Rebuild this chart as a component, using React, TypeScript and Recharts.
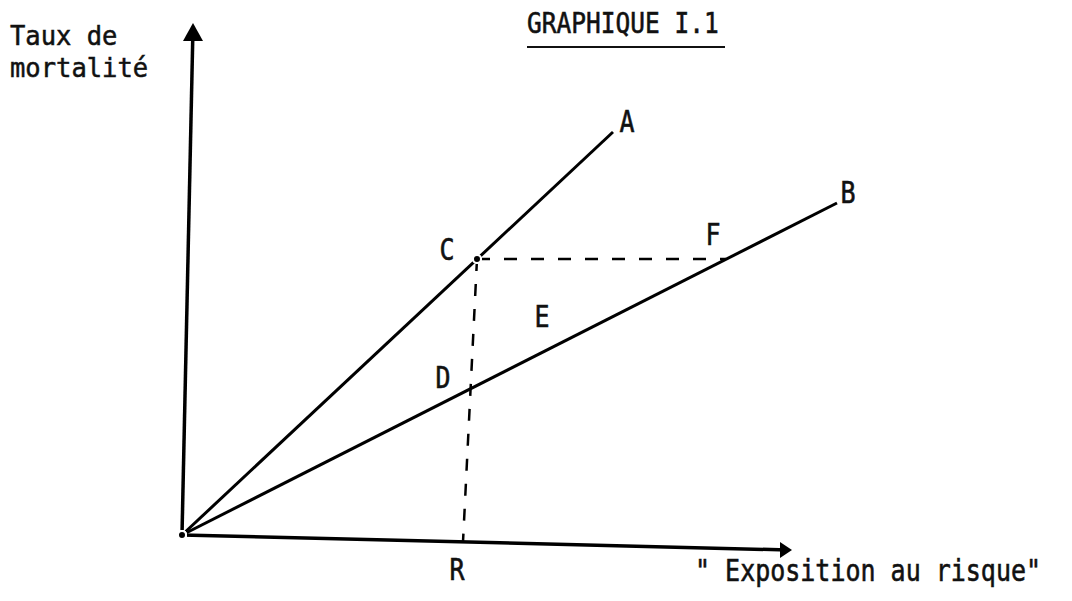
import React from "react";
import { ComposedChart, Line, Scatter, XAxis, YAxis } from "recharts";

const W = 1072;
const H = 601;

// points of the diagram (exposure, mortality units)
const origin = { x: 0, y: 0 };
const pointA = { x: 43.1, y: 40.3 };
const pointB = { x: 65.5, y: 33.2 };
const pointC = { x: 29.5, y: 27.6 };
const pointD = { x: 28.8, y: 14.6 };
const pointF = { x: 54.4, y: 27.6 };
const pointR = { x: 28.1, y: -0.7 };
const pointE = { x: 36.0, y: 21.8 };
const yAxisEnd = { x: 1.1, y: 50.8 };
const xAxisEnd = { x: 60.6, y: -1.5 };

const lineA = [origin, pointA];
const lineB = [origin, pointB];
const dashCF = [pointC, pointF];
const dashCR = [pointC, pointR];
const axisY = [origin, yAxisEnd];
const axisX = [origin, xAxisEnd];

const labelNames = ["A", "B", "C", "D", "E", "F", "R"];
const labelPoints = [pointA, pointB, pointC, pointD, pointE, pointF, pointR];

// pixel offsets of each letter from its point
const labelOffsets: Record<string, [number, number]> = {
  A: [14, -10],
  B: [11, -10],
  C: [-30, -9],
  D: [-27, -11],
  E: [0, 0],
  F: [-13, -24],
  R: [-6, 28],
};

const FONT = "'DejaVu Sans Mono', 'Liberation Mono', monospace";

const labels = labelNames.map((name, i) => ({ name, ...labelPoints[i] }));

const renderLabel = (props: any) => {
  const { cx, cy, payload } = props;
  const [dx, dy] = labelOffsets[payload.name];
  return (
    <text
      transform={`translate(${cx + dx},${cy + dy + 10}) scale(1,1.22)`}
      textAnchor="middle"
      fontFamily={FONT}
      fontSize={25}
      fill="#111"
      stroke="#111"
      strokeWidth={0.5}
    >
      {payload.name}
    </text>
  );
};

const arrowUp = (props: any) => {
  const { cx, cy, index } = props;
  if (index !== 1) return <g key={`ay${index}`} />;
  return (
    <polygon
      key="ay-head"
      points={`${cx},${cy - 4} ${cx - 10},${cy + 14} ${cx + 10},${cy + 14}`}
      fill="#000"
    />
  );
};

const arrowRight = (props: any) => {
  const { cx, cy, index } = props;
  if (index !== 1) return <g key={`ax${index}`} />;
  return (
    <polygon
      key="ax-head"
      points={`${cx + 4},${cy} ${cx - 8},${cy - 8} ${cx - 8},${cy + 8}`}
      fill="#000"
    />
  );
};

export default function App() {
  return (
    <div style={{ position: "absolute", left: 0, top: 0, width: W, height: H, background: "#fff" }}>
      <ComposedChart width={W} height={H} margin={{ top: 0, right: 0, bottom: 0, left: 0 }}>
        <XAxis dataKey="x" type="number" domain={[-18.2, 89.0]} allowDataOverflow hide />
        <YAxis dataKey="y" type="number" domain={[-6.6, 53.5]} allowDataOverflow hide />
        <Line data={axisY} dataKey="y" stroke="#000" strokeWidth={3.5} dot={arrowUp} isAnimationActive={false} />
        <Line data={axisX} dataKey="y" stroke="#000" strokeWidth={3.5} dot={arrowRight} isAnimationActive={false} />
        <Line data={lineA} dataKey="y" stroke="#000" strokeWidth={3} dot={false} isAnimationActive={false} />
        <Line data={lineB} dataKey="y" stroke="#000" strokeWidth={3} dot={false} isAnimationActive={false} />
        <Line data={dashCF} dataKey="y" stroke="#000" strokeWidth={2.5} strokeDasharray="13 14" dot={false} isAnimationActive={false} />
        <Line data={dashCR} dataKey="y" stroke="#000" strokeWidth={2.5} strokeDasharray="12 13" dot={false} isAnimationActive={false} />
        <Scatter data={labels} dataKey="y" shape={renderLabel} isAnimationActive={false} />
      </ComposedChart>
      <svg
        width={W}
        height={H}
        style={{ position: "absolute", left: 0, top: 0, pointerEvents: "none" }}
      >
        <g fontFamily={FONT} fill="#111" stroke="#111" strokeWidth={0.5}>
          <text transform="translate(10,45) scale(1,1.06)" fontSize={25.5}>Taux de</text>
          <text transform="translate(10,77) scale(1,1.06)" fontSize={25.5}>mortalité</text>
          <text transform="translate(527,33) scale(1,1.15)" fontSize={24.5}>GRAPHIQUE I.1</text>
          <text transform="translate(695,581) scale(1,1.22)" fontSize={25}>" Exposition au risque"</text>
        </g>
        <line x1={527} y1={47} x2={725} y2={47} stroke="#111" strokeWidth={2} />
      </svg>
    </div>
  );
}
